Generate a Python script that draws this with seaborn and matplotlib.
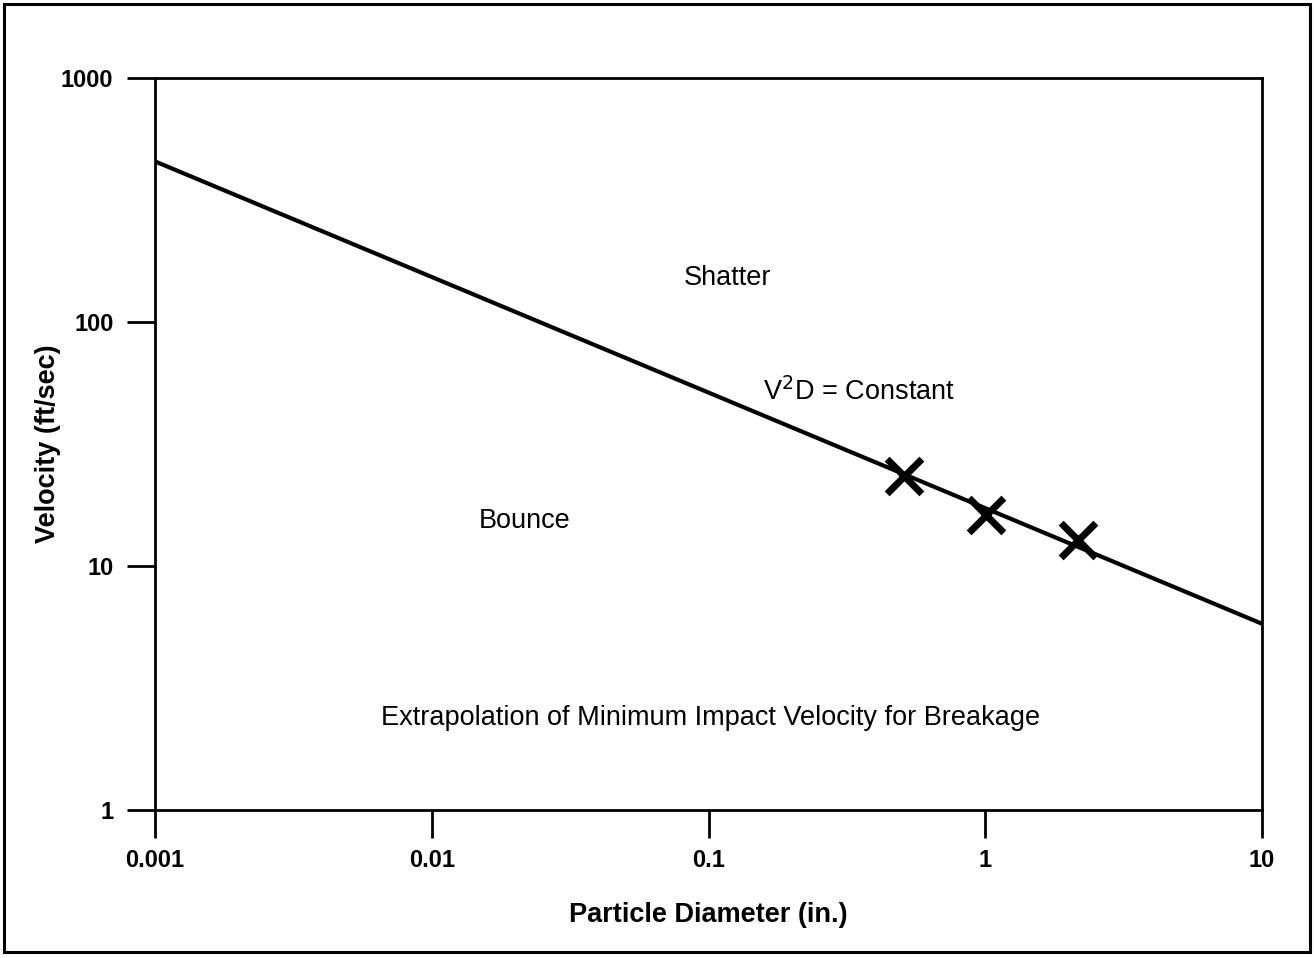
import matplotlib
matplotlib.use('Agg')
import numpy as np
import pandas as pd
import matplotlib.pyplot as plt
import seaborn as sns
from matplotlib.patches import Rectangle


# boundary line V^2 D = constant (end points)
line_diameter = [0.001, 10]
line_velocity = [455, 5.8]

# measured breakage points
test_diameter = [0.51, 1.01, 2.16]
test_velocity = [23.4, 16.2, 12.8]

x_ticks = [0.001, 0.01, 0.1, 1, 10]
x_tick_labels = ['0.001', '0.01', '0.1', '1', '10']
y_ticks = [1, 10, 100, 1000]
y_tick_labels = ['1', '10', '100', '1000']


def main():
    sns.set_theme(style='white')
    plt.rcParams['font.family'] = ['Liberation Sans', 'DejaVu Sans']
    plt.rcParams['text.color'] = 'black'
    plt.rcParams['axes.labelcolor'] = 'black'
    plt.rcParams['xtick.color'] = 'black'
    plt.rcParams['ytick.color'] = 'black'

    line_df = pd.DataFrame({'diameter': line_diameter, 'velocity': line_velocity})
    pts_df = pd.DataFrame({'diameter': test_diameter, 'velocity': test_velocity})

    fig = plt.figure(figsize=(13.14, 9.58), dpi=100)
    ax = fig.add_axes([0.118, 0.1545, 0.8424, 0.7641])

    sns.lineplot(data=line_df, x='diameter', y='velocity', ax=ax,
                 color='black', linewidth=3)
    sns.scatterplot(data=pts_df, x='diameter', y='velocity', ax=ax,
                    marker='x', s=25 ** 2, color='black', linewidth=5, zorder=5)

    ax.set_xscale('log')
    ax.set_yscale('log')
    ax.set_xlim(0.001, 10)
    ax.set_ylim(1, 1000)
    ax.minorticks_off()
    ax.set_xticks(x_ticks)
    ax.set_xticklabels(x_tick_labels, fontsize=17, fontweight='bold')
    ax.set_yticks(y_ticks)
    ax.set_yticklabels(y_tick_labels, fontsize=17, fontweight='bold')
    ax.tick_params(axis='both', direction='out', length=20, width=2,
                   color='black', labelcolor='black',
                   bottom=True, left=True, top=False, right=False)
    ax.tick_params(axis='x', pad=8)
    ax.tick_params(axis='y', pad=10)

    for sp in ax.spines.values():
        sp.set_color('black')
        sp.set_linewidth(2)

    ax.set_xlabel('Particle Diameter (in.)', fontsize=19.5, fontweight='bold', labelpad=22)
    ax.set_ylabel('Velocity (ft/sec)', fontsize=19.5, fontweight='bold', labelpad=0)

    txt = dict(fontsize=19.5, ha='center', va='center', color='black')
    ax.text(0.117, 151, 'Shatter', **txt)
    ax.text(0.0217, 15.3, 'Bounce', **txt)
    ax.text(0.35, 52, r'V$^{2}$D = Constant', **txt)
    ax.text(0.102, 2.38, 'Extrapolation of Minimum Impact Velocity for Breakage', **txt)

    # outer frame round the whole figure
    fig.patches.append(Rectangle((0.003, 0.006), 0.994, 0.9896, transform=fig.transFigure,
                                 fill=False, edgecolor='black', linewidth=2.2))

    fig.savefig('out.png', dpi=100)
    plt.close(fig)


if __name__ == "__main__":
    main()
